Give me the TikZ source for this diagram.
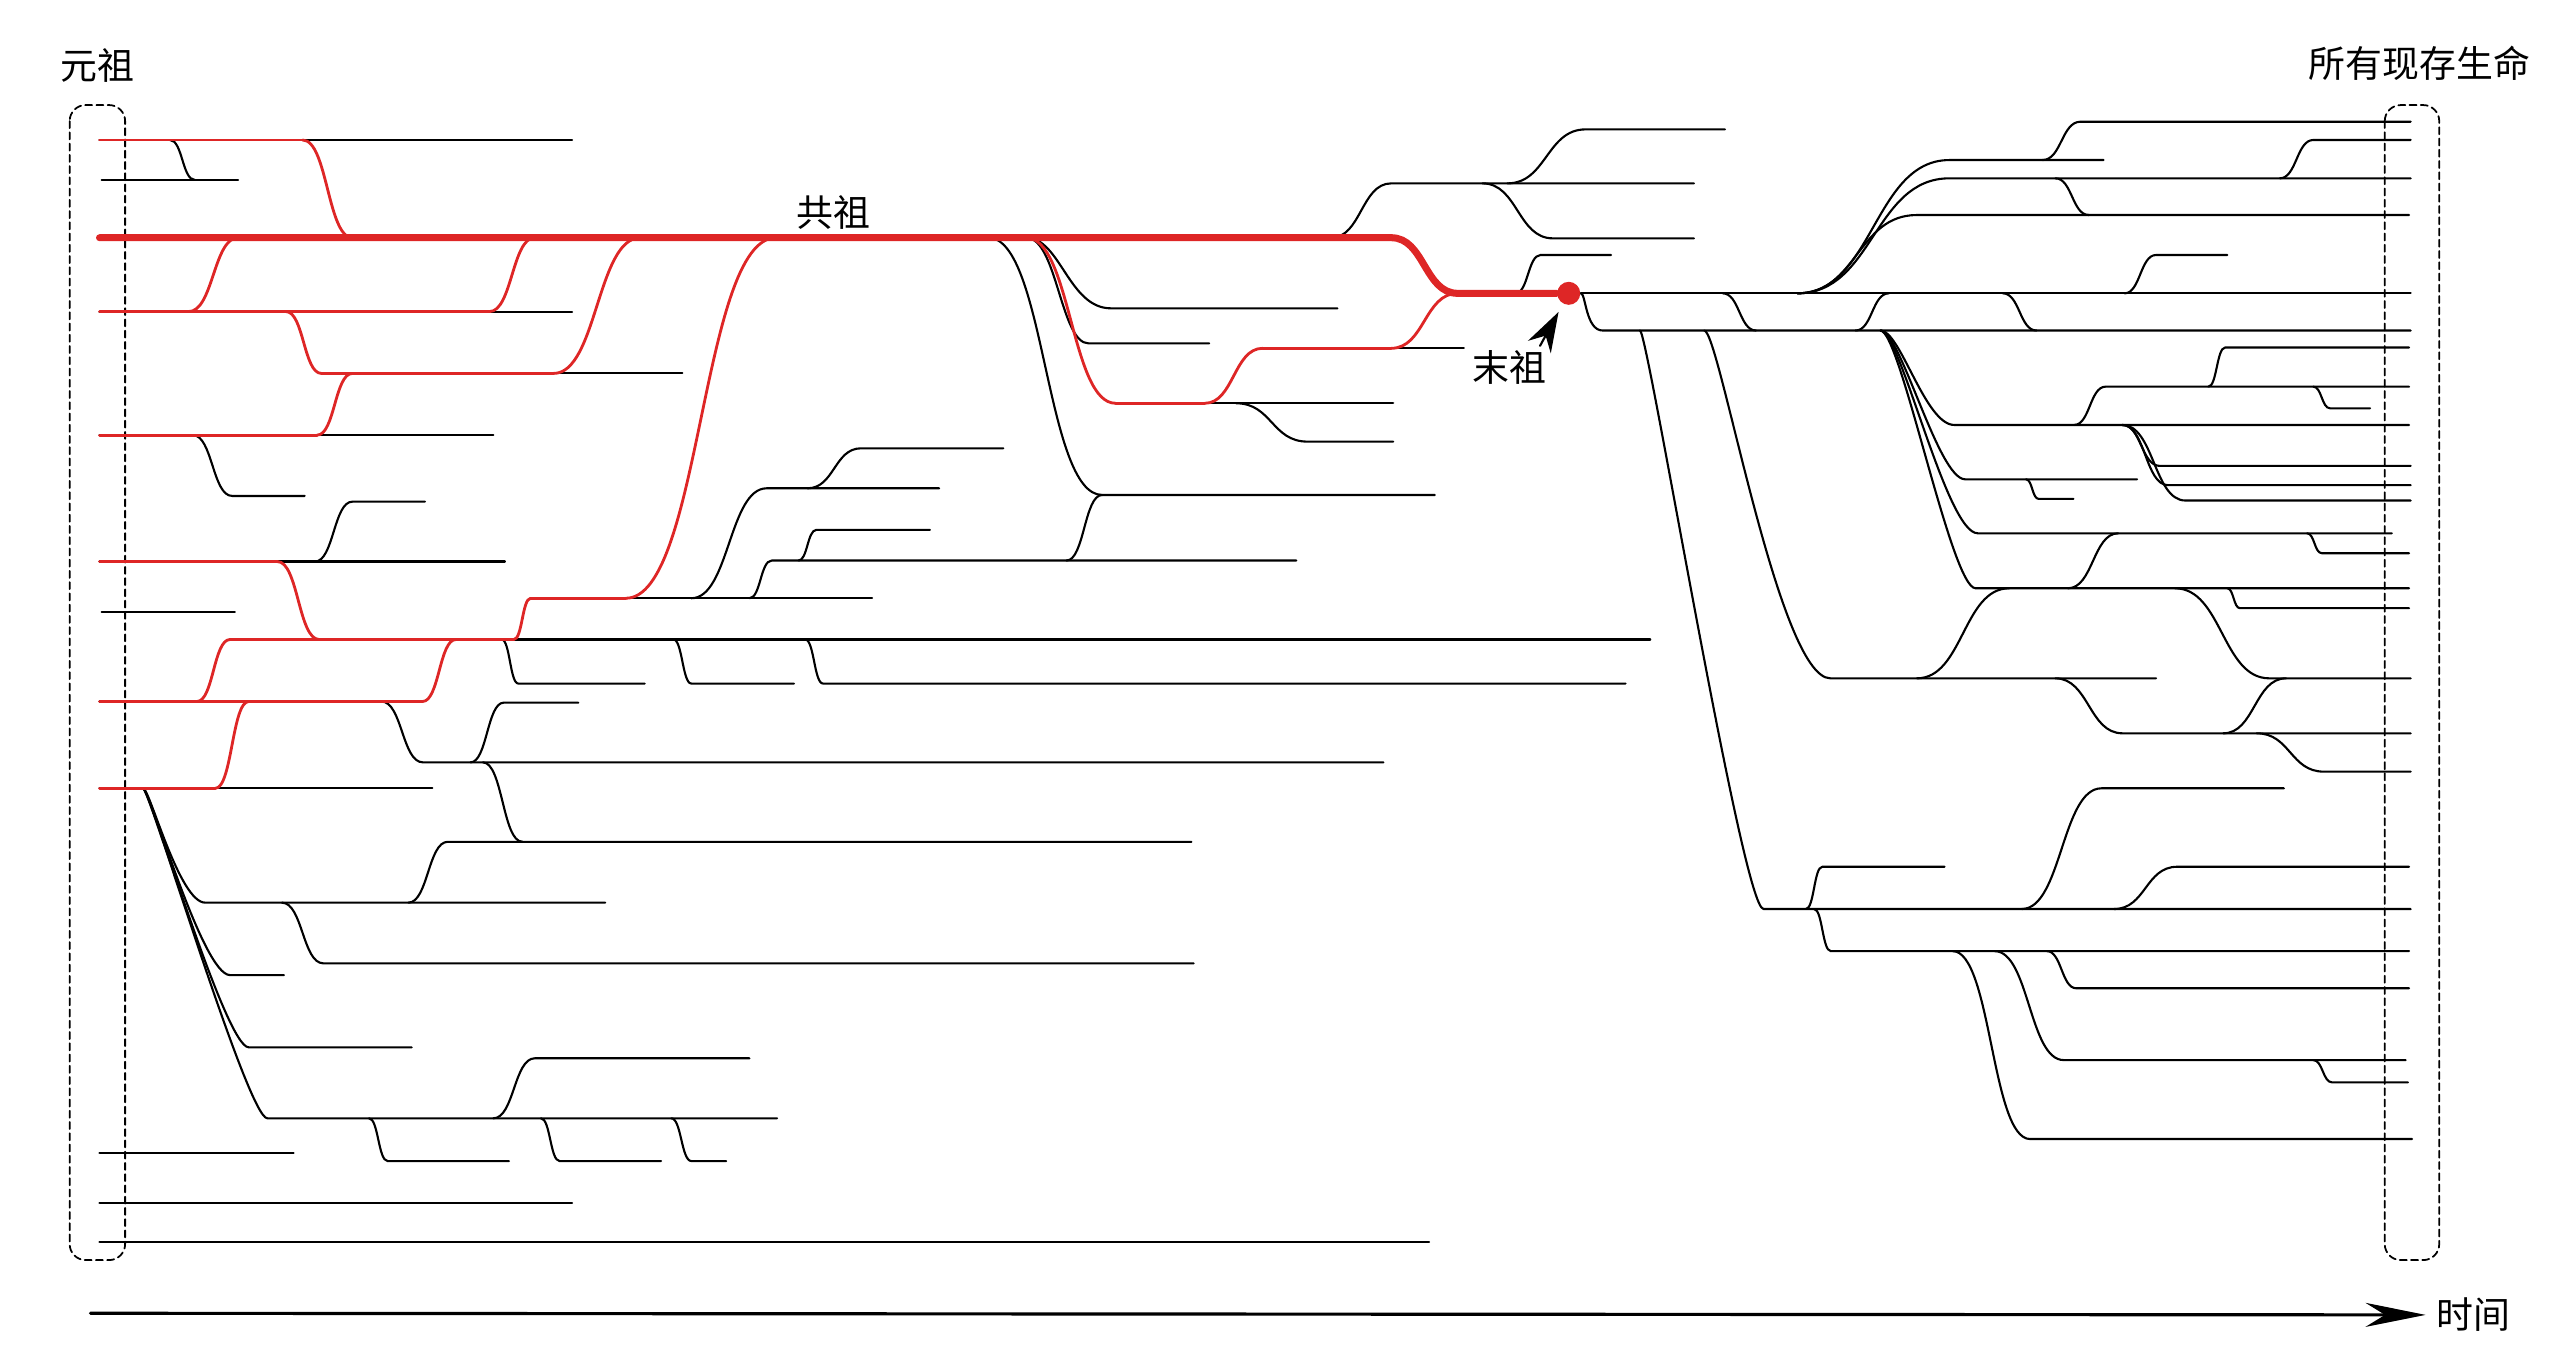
\documentclass[tikz,border=0pt]{standalone}
\usepackage{fontspec}
\newfontfamily\cjk{Noto Sans CJK SC}
\usetikzlibrary{arrows.meta}

\definecolor{lineagered}{RGB}{222,38,38}

\tikzset{
  lin/.style={line width=0.6pt, black},
  redlin/.style={line width=0.8pt, lineagered},
  mainlin/.style={line width=2pt, lineagered},
  dashbox/.style={dash pattern=on 2pt off 1.2pt, line width=0.5pt, rounded corners=1.6mm},
  lbl/.style={font=\cjk\fontsize{10.5}{12}\selectfont, inner sep=0pt},
  timeaxis/.style={line width=0.9pt, -{Stealth[length=6mm,width=2.4mm]}},
  pointer/.style={line width=0.6pt, -{Stealth[length=4mm,width=2.6mm]}},
}

\begin{document}
\begin{tikzpicture}[x=0.16314mm, y=-0.16314mm, line cap=round, line join=round]

\useasboundingbox (0,0) rectangle (1568,839);

% --- dashed boxes (first and last generation) ---
\draw[dashbox] (42.7,64.4) rectangle (76.7,772.4);
\draw[dashbox] (1461.8,64.4) rectangle (1495.2,772.4);

% --- plain lineages ---
\foreach \y/\xa/\xb in {85.8/61/350.7, 110.3/62.3/146, 191/61/350.7,
  228.9/197/418.3, 266.7/61/302.4, 344.2/61/309.5, 374.9/62.3/144,
  392/141/1011.6, 430/61/259, 483.2/61/265, 707/61/180, 737.6/61/350.7,
  761.1/61/876, 366.7/325.3/534.6, 247.2/683.8/854, 213.5/774/897.3}
  \draw[lin] (\xa,\y) -- (\xb,\y);

% --- black splits: start, end of curve, end of line ---
\foreach \xa/\ya/\xb/\yb/\xc in {
  104.2/85.8/119.4/110.3/119.4, 118.2/266.7/142.3/304/186.8,
  193.1/344.2/216/307.5/260.5, 307.5/392/317.7/419/395.2,
  412.8/392/423.8/419/486.7, 493.6/392/504.5/419/996.4,
  233.8/430/259.2/467.3/848, 288.4/467.3/308.8/430.7/354.5,
  296/467.3/320.2/516/320.2, 250.3/553.3/274.5/516/730.3,
  172.8/553.3/198.2/590.5/731.7, 302.4/685.5/327.8/648.7/459.4,
  226.2/685.5/237.6/711.7/312, 331.6/685.5/343/711.7/405.2,
  411.5/685.5/423.8/711.7/445.1, 423.8/366.7/470/299.3/575.7,
  495/299.3/527.8/274.8/615, 459.4/366.7/473/343.6/794.6,
  489.5/343.6/500.4/324.8/570, 653.7/343.6/675.6/303.4/675.6,
  605.8/145.7/675.6/303.4/879.5, 757.7/247.2/801.5/270.7/854,
  816/145.7/852.8/112.4/1038.3, 924/112.4/972/79.3/1057.4,
  908.7/112.4/951.9/146.1/1038.3, 929/179.8/944.3/156.3/987.5,
  1056/179.8/1076.4/202.6/1076.4, 1137.4/202.6/1157.8/179.8/1157.8,
  1227.7/179.8/1248.3/202.6/1248.3, 1101.8/179.8/1195/98.1/1289.4,
  1101.8/179.8/1195/109.3/1477.7, 1101.8/179.8/1175/131.8/1476.7,
  1252/98.1/1275.3/74.6/1477.7, 1397.5/109.3/1418/85.8/1477.7,
  1259.9/109.3/1280.4/131.8/1280.4, 1302.3/179.8/1321.6/156.3/1365.3,
  1353.7/237/1364/213/1476.7, 1271.4/260.5/1290.7/237/1476.7,
  1418/237/1428.3/250.3/1452.8, 1301/260.5/1324/285.6/1477.7,
  1301/260.5/1329/297.4/1477.7, 1301/260.5/1339.6/306.8/1477.7,
  1241.9/293.8/1249.6/305.8/1271, 1414.2/326.9/1423.2/339.1/1476.7,
  1267.6/360.6/1298.4/326.9/1298.4, 1365.3/360.6/1373/372.8/1476.7,
  1175/415.8/1231.6/360.6/1231.6, 1333.2/360.6/1391/415.8/1477.7,
  1259.9/415.8/1301/449.5/1477.7, 1362.8/449.5/1401.3/415.8/1401.3,
  1383.3/449.5/1424.5/473/1477.7, 1239.3/557.2/1288.2/483.2/1400,
  1295.9/557.2/1334.5/531.3/1476.7, 1107/557.2/1117/531.3/1192,
  1112/557.2/1122.2/583/1476.7, 1254.7/583/1272.7/605.8/1476.7,
  1222.6/583/1265/649.8/1474.6, 1418/649.8/1429.6/663.5/1476,
  1196.9/583/1244.4/698.2/1478.5}
  \draw[lin] (\xa,\ya) .. controls ({(\xa+\xb)/2},\ya) and ({(\xa+\xb)/2},\yb) .. (\xb,\yb) -- (\xc,\yb);

% --- steep fans ---
\foreach \xa/\ya/\xp/\xq/\xb/\yb/\xc in {
  87.7/483.2/91.7/109.9/125.8/553.3/371, 87.7/483.2/91.7/124/141/597.7/174,
  87.7/483.2/91.7/138/152.5/642/252.4, 87.7/483.2/91.7/151.8/163.9/685.5/476.3,
  1152.7/202.6/1165/1180/1198/260.5/1476.7, 1152.7/202.6/1165/1188/1204.6/293.8/1310,
  1152.7/202.6/1165/1193/1212.3/326.9/1466.1, 1152.7/202.6/1165/1196/1211/360.6/1476.7,
  1044.7/202.6/1054/1090/1122/415.8/1321.6, 1005.3/202.6/1010/1068/1081/557.2/1477.7,
  629/145.7/650/655/681/189/819.8, 629/145.7/648/650/667.3/210.5/741.2}
  \draw[lin] (\xa,\ya) .. controls (\xp,\ya) and (\xq,\yb) .. (\xb,\yb) -- (\xc,\yb);

% --- red lineages ---
\foreach \y/\xa/\xb in {85.8/61/185.5, 191/61/300, 228.9/197/339.3,
  266.7/61/194.4, 344.2/61/170, 392/141/315, 366.7/325.3/383.7,
  430/61/259, 483.2/61/132, 247.2/683.8/738.5, 213.5/774/852.8}
  \draw[redlin] (\xa,\y) -- (\xb,\y);

\foreach \xa/\ya/\xb/\yb in {185.5/85.8/216/145.7, 115.6/191/146/145.7,
  300/191/327.8/145.7, 175.3/191/197/228.9, 339.3/228.9/392.6/145.7,
  194.4/266.7/216/228.9, 170/344.2/195.7/392, 315/392/325.3/366.7,
  383.7/366.7/475.8/145.7, 259/430/279.5/392, 120.7/430/141/392,
  132/483.2/152.5/430, 629/145.7/683.8/247.2, 738.5/247.2/774/213.5,
  852.8/213.5/893.5/179.8}
  \draw[redlin] (\xa,\ya) .. controls ({(\xa+\xb)/2},\ya) and ({(\xa+\xb)/2},\yb) .. (\xb,\yb);

% --- last universal ancestor ---
\node (dot) [circle, fill=lineagered, inner sep=0pt, minimum size=2.3mm] at (961.6,179.8) {};
\draw[lin] (dot.east) -- (1477.7,179.8);
\draw[lin] (dot.east) .. controls (972,179.8) and (972,202.6) .. (982.4,202.6) -- (1477.7,202.6);

% --- main ancestral line ---
\draw[mainlin] (61,145.7) -- (852.8,145.7)
  .. controls (873.15,145.7) and (873.15,179.8) .. (893.5,179.8) -- (dot.west);

% --- labels ---
\node[lbl] (yz) at (60,40) {元祖};
\node[lbl] (xc) at (1483,39) {所有现存生命};
\node[lbl] (gz) at (511,130) {共祖};
\node[lbl] (mz) at (925,225) {末祖};
\node[lbl] (sj) at (1516,806) {时间};

\coordinate (mztail) at (944,212);
\draw[pointer, shorten >=0.9mm] (mztail) -- (dot);

% --- time axis ---
\coordinate (t0) at (55.4,805);
\draw[timeaxis, shorten >=1mm] (t0) -- (sj.west);

\end{tikzpicture}
\end{document}
